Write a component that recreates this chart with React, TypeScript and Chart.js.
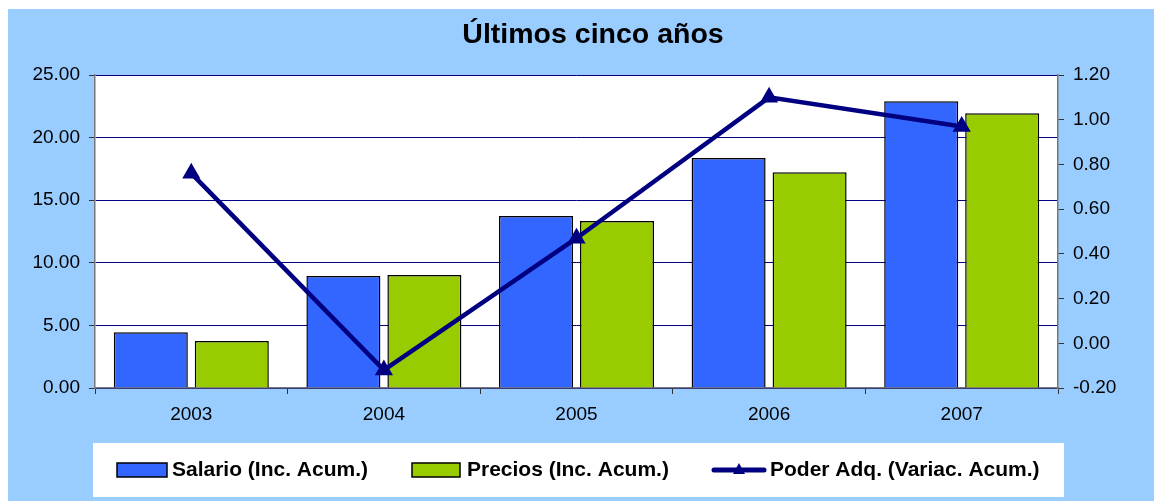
import React, { useEffect, useRef } from "react";
import { Chart, registerables } from "chart.js";

Chart.register(...registerables);

// ---- data ----
const categories = ["2003", "2004", "2005", "2006", "2007"];
const salario = [4.45, 8.95, 13.74, 18.37, 22.9];
const precios = [3.75, 9.03, 13.34, 17.23, 21.94];
const poder = [0.76, -0.12, 0.47, 1.1, 0.97];
const seriesLabels = [
  "Salario (Inc. Acum.)",
  "Precios (Inc. Acum.)",
  "Poder Adq. (Variac. Acum.)",
];
const titleText = "Últimos cinco años";
const leftAxis = { min: 0, max: 25, step: 5 };
const rightAxis = { min: -0.2, max: 1.2, step: 0.2 };

// ---- styles ----
const FONT = "'Liberation Sans', Arial, sans-serif";
const BG = "#99CCFF";
const BLUE = "#3366FF";
const GREEN = "#99CC00";
const NAVY = "#000080";
const W = 1146;
const H = 492;

const decor = {
  id: "decor",
  beforeDraw(chart: any) {
    const { ctx, chartArea: a } = chart;
    ctx.save();
    ctx.fillStyle = BG;
    ctx.fillRect(0, 0, chart.width, chart.height);
    ctx.fillStyle = "#ffffff";
    ctx.fillRect(a.left, a.top, a.right - a.left, a.bottom - a.top);
    ctx.restore();
  },
  afterDraw(chart: any) {
    const { ctx } = chart;
    ctx.save();
    // title
    ctx.fillStyle = "#000";
    ctx.font = `bold 28.5px ${FONT}`;
    ctx.textAlign = "center";
    ctx.textBaseline = "middle";
    ctx.fillText(titleText, 585, 26);
    ctx.textAlign = "left";
    // legend box
    ctx.fillStyle = "#ffffff";
    ctx.fillRect(85, 434, 971, 54);
    const cy = 461;
    ctx.font = `bold 21px ${FONT}`;
    ctx.textBaseline = "middle";
    // item 1
    ctx.fillStyle = BLUE;
    ctx.fillRect(109, 454, 50, 14);
    ctx.strokeStyle = "#000";
    ctx.lineWidth = 1.5;
    ctx.strokeRect(109, 454, 50, 14);
    ctx.fillStyle = "#000";
    ctx.fillText(seriesLabels[0], 164, cy);
    // item 2
    ctx.fillStyle = GREEN;
    ctx.fillRect(404, 454, 48, 14);
    ctx.strokeRect(404, 454, 48, 14);
    ctx.fillStyle = "#000";
    ctx.fillText(seriesLabels[1], 459, cy);
    // item 3
    ctx.strokeStyle = NAVY;
    ctx.lineWidth = 5;
    ctx.lineCap = "round";
    ctx.beginPath();
    ctx.moveTo(706, cy);
    ctx.lineTo(756, cy);
    ctx.stroke();
    ctx.fillStyle = NAVY;
    ctx.beginPath();
    ctx.moveTo(731, cy - 7);
    ctx.lineTo(737, cy + 4);
    ctx.lineTo(725, cy + 4);
    ctx.closePath();
    ctx.fill();
    ctx.fillStyle = "#000";
    ctx.fillText(seriesLabels[2], 762, cy);
    ctx.restore();
  },
};

export default function App() {
  const ref = useRef<HTMLCanvasElement>(null);
  useEffect(() => {
    if (!ref.current) return;
    const fmt = (v: any) => (Math.abs(Number(v)) < 1e-9 ? "0.00" : Number(v).toFixed(2));
    const chart = new Chart(ref.current, {
      type: "bar",
      data: {
        labels: categories,
        datasets: [
          {
            type: "line",
            label: seriesLabels[2],
            data: poder,
            yAxisID: "y1",
            borderColor: NAVY,
            backgroundColor: NAVY,
            borderWidth: 4.5,
            pointStyle: "triangle",
            pointRadius: 6,
            pointBackgroundColor: NAVY,
            pointBorderColor: NAVY,
            order: 0,
          } as any,
          {
            label: seriesLabels[0],
            data: salario,
            yAxisID: "y",
            backgroundColor: BLUE,
            borderColor: "#000",
            borderWidth: 1.5,
            categoryPercentage: 0.841,
            barPercentage: 0.914,
            order: 1,
          },
          {
            label: seriesLabels[1],
            data: precios,
            yAxisID: "y",
            backgroundColor: GREEN,
            borderColor: "#000",
            borderWidth: 1.5,
            categoryPercentage: 0.841,
            barPercentage: 0.914,
            order: 1,
          },
        ],
      },
      options: {
        responsive: false,
        animation: false,
        layout: { padding: { top: 66, left: 0, right: 0, bottom: 73 } },
        plugins: {
          legend: { display: false },
          tooltip: { enabled: false },
          title: { display: false },
        },
        scales: {
          x: {
            offset: true,
            grid: {
              offset: true,
              drawOnChartArea: false,
              drawTicks: true,
              tickLength: 6,
              tickColor: "#333",
            },
            border: { color: "#777", width: 1.5 },
            ticks: { color: "#000", font: { family: FONT, size: 19 }, padding: 9 },
            afterFit: (s: any) => {
              s.height = 40;
            },
          },
          y: {
            position: "left",
            min: leftAxis.min,
            max: leftAxis.max,
            ticks: {
              stepSize: leftAxis.step,
              color: "#000",
              font: { family: FONT, size: 19 },
              padding: 9,
              callback: fmt,
            },
            grid: { color: NAVY, lineWidth: 1, tickColor: "#333", tickLength: 6 },
            border: { color: "#777", width: 1.5 },
            afterFit: (s: any) => {
              s.width = 87;
            },
          },
          y1: {
            position: "right",
            min: rightAxis.min,
            max: rightAxis.max,
            ticks: {
              stepSize: rightAxis.step,
              color: "#000",
              font: { family: FONT, size: 19 },
              padding: 9,
              callback: fmt,
            },
            grid: { drawOnChartArea: false, tickColor: "#333", tickLength: 6 },
            border: { color: "#777", width: 1.5 },
            afterFit: (s: any) => {
              s.width = 96;
            },
          },
        },
      } as any,
      plugins: [decor],
    });
    return () => chart.destroy();
  }, []);
  return (
    <div style={{ position: "absolute", left: 8, top: 9, width: W, height: H, background: BG }}>
      <canvas ref={ref} width={W} height={H} style={{ display: "block" }} />
    </div>
  );
}
